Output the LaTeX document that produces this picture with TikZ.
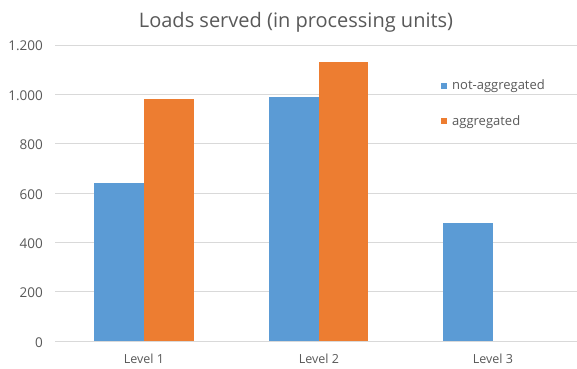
\documentclass[tikz,border=0pt]{standalone}
\usepackage{fontspec}
\setmainfont{Open Sans}
\definecolor{serA}{HTML}{5B9BD5}
\definecolor{serB}{HTML}{ED7D31}
\definecolor{txt}{HTML}{595959}
\definecolor{grid}{HTML}{D9D9D9}
\begin{document}
\begin{tikzpicture}[x=1pt,y=-1pt,
  gridline/.style={draw=grid,line width=0.9pt},
  ticklabel/.style={anchor=base east,text=txt,font=\fontsize{13.5}{14}\selectfont,inner sep=0pt},
  catlabel/.style={anchor=base,text=txt,font=\fontsize{12.5}{14}\selectfont,inner sep=0pt},
  legtext/.style={anchor=base west,text=txt,font=\fontsize{13}{14}\selectfont,inner sep=0pt},
  barA/.style={fill=serA},
  barB/.style={fill=serB}]
\useasboundingbox[fill=white] (0,0) rectangle (577,368);
% title
\node[anchor=base,text=txt,font=\fontsize{20}{22}\selectfont,inner sep=0pt] (title) at (296,27) {Loads served (in processing units)};
% gridlines and value axis labels
\foreach \v/\lab in {0/0,200/200,400/400,600/600,800/800,1000/{1.000},1200/{1.200}}{
  \pgfmathsetmacro{\yy}{341-\v*0.246667}
  \draw[gridline] (55,\yy) -- (577,\yy);
  \node[ticklabel] (tick\v) at (43,\yy+6) {\lab};
}
% bars
\fill[barA] (94,341) rectangle (144,183);
\fill[barB] (144,341) rectangle (194,99);
\fill[barA] (269,341) rectangle (319,97);
\fill[barB] (319,341) rectangle (368,62);
\fill[barA] (443,341) rectangle (493,223);
% category labels
\node[catlabel] (cat1) at (144,363) {Level 1};
\node[catlabel] (cat2) at (319,363) {Level 2};
\node[catlabel] (cat3) at (493,363) {Level 3};
% legend
\fill[serA] (441,83) rectangle (447,89);
\node[legtext] (legA) at (452,89) {not-aggregated};
\fill[serB] (441,118) rectangle (447,124);
\node[legtext] (legB) at (452,125) {aggregated};
\end{tikzpicture}
\end{document}
